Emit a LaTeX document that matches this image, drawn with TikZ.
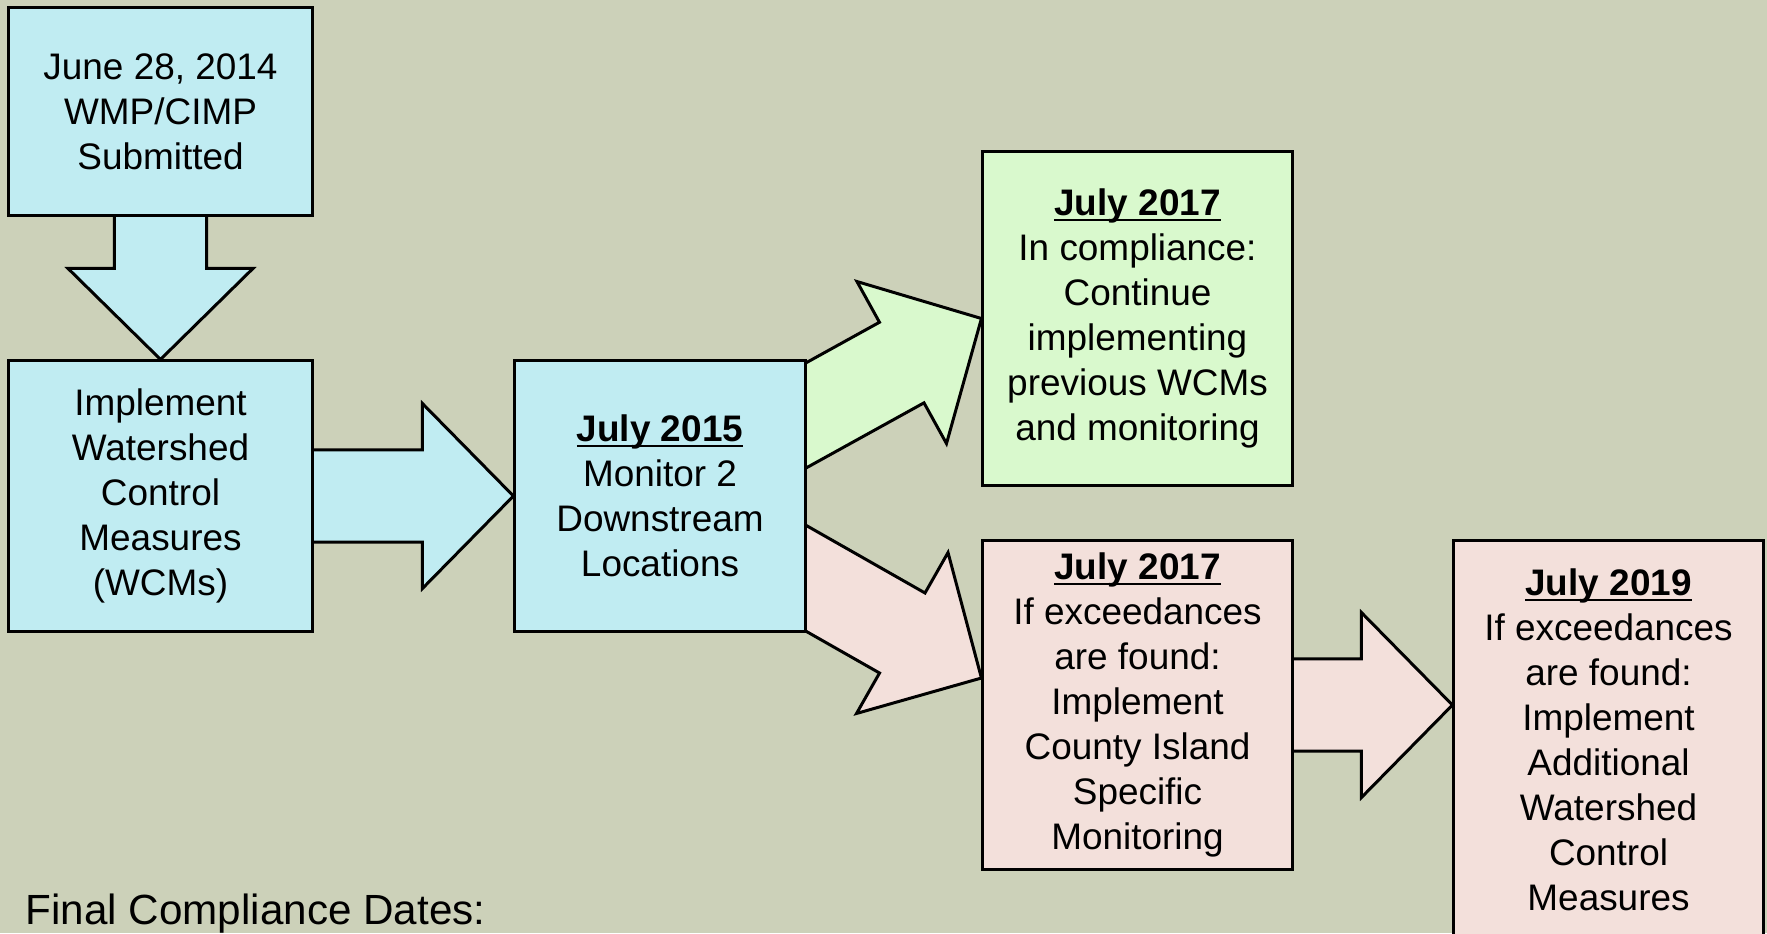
\documentclass[tikz,border=0pt]{standalone}
\usepackage{fontspec}
\setmainfont{Liberation Sans}
\usetikzlibrary{calc,backgrounds}

\definecolor{paper}{HTML}{CCD1B9}
\definecolor{skyfill}{HTML}{C0ECF2}
\definecolor{leaffill}{HTML}{D9F9CD}
\definecolor{rosefill}{HTML}{F3E0DB}

% bold date with a rule just under the baseline
\newcommand\when[1]{\setbox0\hbox{\textbf{#1}}\rlap{\rule[-1.5pt]{\wd0}{0.65pt}}\box0}

\tikzset{
  datebox/.style={draw=black, line width=0.85pt, inner sep=0pt, align=center,
    font=\fontsize{10.5}{12.8}\selectfont},
  arrowline/.style={draw=black, line width=0.85pt, line join=miter}
}

% fat block arrow: fill colour, tail, tip
\newcommand\blockarrow[3]{%
  \coordinate (h) at ($(#3)!0.91cm!(#2)$);
  \draw[arrowline, fill=#1] ($(#2)!0.46cm!90:(#3)$) -- ($(h)!0.46cm!90:(#3)$)
    -- ($(h)!0.925cm!90:(#3)$) -- (#3) -- ($(h)!0.925cm!-90:(#3)$)
    -- ($(h)!0.46cm!-90:(#3)$) -- ($(#2)!0.46cm!-90:(#3)$) -- cycle;
}

\begin{document}
\begin{tikzpicture}[x=0.01cm, y=-0.01cm]
\useasboundingbox (0,0) rectangle (1767,933);

\node[datebox, fill=skyfill, minimum width=3.03cm, minimum height=2.07cm] (sub) at (160.5,111.5)
  {June 28, 2014\\WMP/CIMP\\Submitted};
\node[datebox, fill=skyfill, minimum width=3.03cm, minimum height=2.70cm] (impl) at (160.5,496)
  {Implement\\Watershed\\Control\\Measures\\(WCMs)};
\node[datebox, fill=skyfill, minimum width=2.90cm, minimum height=2.70cm] (mon) at (660,496)
  {\when{July 2015}\\Monitor 2\\Downstream\\Locations};
\node[datebox, fill=leaffill, minimum width=3.09cm, minimum height=3.33cm] (comp) at (1137.5,318.5)
  {\when{July 2017}\\In compliance:\\Continue\\implementing\\previous WCMs\\and monitoring};
\node[datebox, fill=rosefill, minimum width=3.09cm, minimum height=3.28cm] (exc) at (1137.5,705)
  {\when{July 2017}\\If exceedances\\are found:\\Implement\\County Island\\Specific\\Monitoring};
\node[datebox, fill=rosefill, minimum width=3.09cm, minimum height=3.98cm] (add) at (1608.5,740)
  {\when{July 2019}\\If exceedances\\are found:\\Implement\\Additional\\Watershed\\Control\\Measures};

\node[anchor=base west, inner sep=0pt, font=\fontsize{12}{14}\selectfont] (final) at (25,924)
  {Final Compliance Dates:};

% arrows sit under the boxes so their tails are hidden
\begin{scope}[on background layer]
\fill[paper] (0,0) rectangle (1767,933);
\blockarrow{skyfill}{sub.center}{impl.north}
\blockarrow{skyfill}{impl.center}{mon.west}
\coordinate (up) at ($(mon.center)+(40,-22)$);
\blockarrow{leaffill}{up}{comp.west}
\coordinate (dn) at ($(mon.center)+(40,22)$);
\coordinate (dntip) at ($(exc.west)+(0,-27)$);
\blockarrow{rosefill}{dn}{dntip}
\blockarrow{rosefill}{exc.center}{add.west |- exc.center}
\end{scope}
\end{tikzpicture}
\end{document}
